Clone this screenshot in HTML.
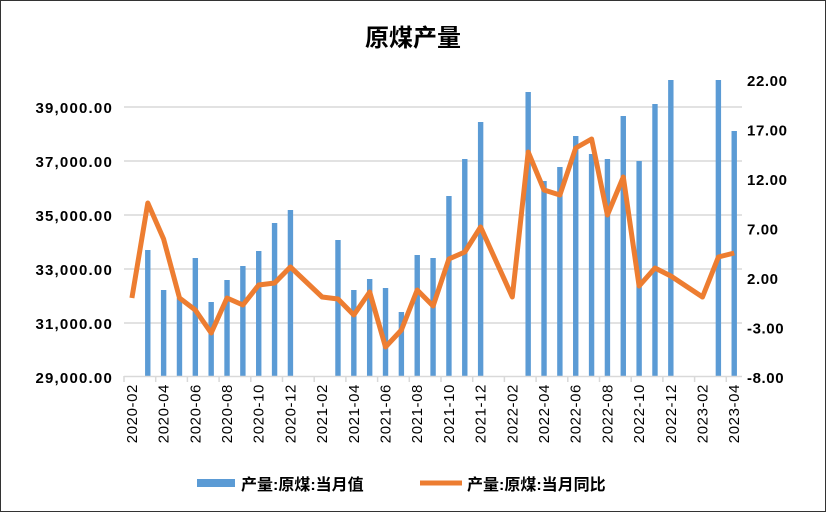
<!DOCTYPE html>
<html><head><meta charset="utf-8"><style>
body{margin:0;background:#fff}
svg{display:block;font-family:"Liberation Sans","Noto Sans CJK SC",sans-serif}
</style></head><body>
<svg id="s" width="826" height="512" viewBox="0 0 826 512">
<rect x="0.5" y="0.5" width="825" height="511" fill="#fff" stroke="#333"/>
<text x="413" y="46" text-anchor="middle" font-size="24" font-weight="bold" fill="#000">原煤产量</text>
<g id="g"></g>
<rect x="197" y="479" width="38" height="8" fill="#5b9bd5"/>
<text x="241" y="490" font-size="16" font-weight="bold" fill="#000">产量:原煤:当月值</text>
<line x1="420" y1="483" x2="462" y2="483" stroke="#ed7d31" stroke-width="5"/>
<text x="467" y="490" font-size="16" font-weight="bold" fill="#000">产量:原煤:当月同比</text>
</svg>
<script>
var g=document.getElementById('g'),h='';
var L=124,W=15.85;
var yl=['39,000.00','37,000.00','35,000.00','33,000.00','31,000.00','29,000.00'];
var yr=['22.00','17.00','12.00','7.00','2.00','-3.00','-8.00'];
for(var i=0;i<5;i++){var y=107+i*54;h+='<line x1="'+L+'" x2="742" y1="'+y+'" y2="'+y+'" stroke="#d9d9d9" stroke-width="1.5"/>';}
for(i=0;i<6;i++){h+='<text x="113" y="'+(107+i*54+6)+'" text-anchor="end" font-size="15" font-weight="bold" letter-spacing="1.2">'+yl[i]+'</text>';}
for(i=0;i<7;i++){h+='<text x="747" y="'+(80+i*49.5+6)+'" font-size="15" font-weight="bold" letter-spacing="0.6">'+yr[i]+'</text>';}
var tops=[null,250,290,298,258,302,280,266,251,223,210,null,null,240,290,279,288,312,255,258,196,159,122,null,null,92,181,167,136,154,159,116,161,104,80,null,null,80,131];
for(i=0;i<39;i++){if(tops[i]!==null){var cx=L+(i+0.5)*W;h+='<rect x="'+(cx-2.7)+'" y="'+tops[i]+'" width="5.4" height="'+(376-tops[i])+'" fill="#5b9bd5"/>';}}
h+='<line x1="'+L+'" x2="742" y1="376.5" y2="376.5" stroke="#d9d9d9" stroke-width="1.5"/>';
for(i=0;i<=39;i+=2){var x=L+i*W;h+='<line x1="'+x+'" x2="'+x+'" y1="376" y2="382" stroke="#d9d9d9" stroke-width="1.5"/>';}
var lab=[];for(var yy=2020;yy<=2023;yy++)for(var m=1;m<=12;m++)lab.push(yy+'-'+(m<10?'0':'')+m);
for(i=0;i<39;i+=2){var cx=L+(i+0.5)*W+5;var t=lab[i+1];h+='<text transform="translate('+cx+',384) rotate(-90)" text-anchor="end" font-size="15" letter-spacing="0.6">'+t+'</text>';}
var ln=[298,203,239,298,310,333,298,305,285,283,267,null,297,299,315,292,347,330,290,306,259,252,227,null,297,152,190,195,148,139,215,177,286,268,276,null,297,257,253];
var p='';for(i=0;i<39;i++){if(ln[i]!==null){p+=(p?' L':'M')+(L+(i+0.5)*W).toFixed(1)+' '+ln[i];}}
h+='<path d="'+p+'" fill="none" stroke="#ed7d31" stroke-width="5" stroke-linejoin="round"/>';
g.innerHTML=h;
</script>
</body></html>
